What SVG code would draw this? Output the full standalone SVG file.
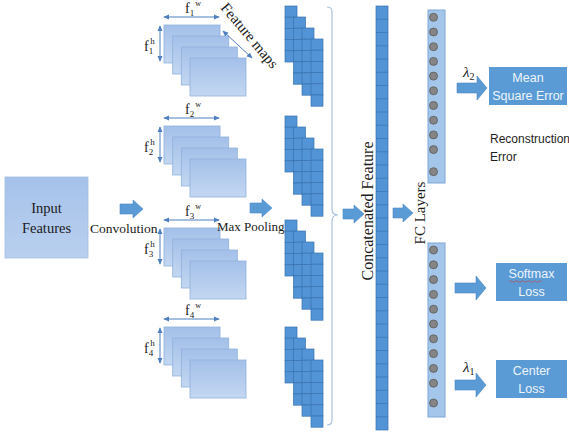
<svg xmlns="http://www.w3.org/2000/svg" xmlns:xlink="http://www.w3.org/1999/xlink" width="569" height="437" viewBox="0 0 569 437">
<style>
.serif{font-family:"Liberation Serif","Times New Roman",serif;fill:#1a1a1a}
.sans{font-family:"Liberation Sans",Arial,sans-serif}
.fmap{fill:url(#fmGrad);stroke:#8fb1dd;stroke-width:0.8}
.cell{fill:#5294d6;stroke:#3a72b0;stroke-width:0.7}
.dim{stroke:#4f7fbf;stroke-width:1;fill:none;marker-start:url(#ah);marker-end:url(#ah)}
.barrow{fill:#5b9bd5;stroke:#4a87c4;stroke-width:0.6}
.bluebox{fill:#5b9bd5}
.boxtxt{font-family:"Liberation Sans",Arial,sans-serif;font-size:12.5px;fill:#eef5fc;text-anchor:middle}
.fc{fill:#a3c6ea;stroke:#7ea8d8;stroke-width:1}
.node{fill:#858585;stroke:#5a5a5a;stroke-width:0.8}
.brace{fill:none;stroke:#a9c1de;stroke-width:1.2}
</style>
<defs>
<linearGradient id="fmGrad" x1="0" y1="0" x2="0" y2="1">
<stop offset="0" stop-color="#a4c0e9"/>
<stop offset="1" stop-color="#c3d7f1"/>
</linearGradient>
<linearGradient id="inGrad" x1="0" y1="0" x2="0" y2="1">
<stop offset="0" stop-color="#a6c2ea"/>
<stop offset="1" stop-color="#b9d0ef"/>
</linearGradient>
<marker id="ah" viewBox="0 0 8 8" refX="7" refY="4" markerWidth="6" markerHeight="6" orient="auto-start-reverse" markerUnits="userSpaceOnUse">
<path d="M0,0.5 L8,4 L0,7.5 Z" fill="#4f7fbf"/>
</marker>
<g id="fstack">
<rect class="fmap" x="0" y="0" width="56" height="38"/>
<rect class="fmap" x="8.7" y="11" width="56" height="38"/>
<rect class="fmap" x="17.3" y="22" width="56" height="38"/>
<rect class="fmap" x="26" y="33" width="56" height="38"/>
</g>
<g id="col5">
<rect class="cell" x="0" y="0" width="12" height="11.2"/>
<rect class="cell" x="0" y="11.2" width="12" height="11.2"/>
<rect class="cell" x="0" y="22.4" width="12" height="11.2"/>
<rect class="cell" x="0" y="33.6" width="12" height="11.2"/>
<rect class="cell" x="0" y="44.8" width="12" height="11.2"/>
</g>
<g id="col6">
<use xlink:href="#col5"/>
<rect class="cell" x="0" y="56" width="12" height="11.2"/>
</g>
<g id="pblock">
<use xlink:href="#col5" x="285" y="0"/>
<use xlink:href="#col6" x="293.5" y="11"/>
<use xlink:href="#col6" x="302" y="22"/>
<use xlink:href="#col6" x="311" y="33"/>
</g>
</defs>

<rect width="569" height="437" fill="#ffffff"/>

<g id="input-features">
<rect x="5" y="177" width="83" height="81" fill="url(#inGrad)" stroke="#a3bfe4" stroke-width="0.8"/>
<text class="serif" x="46.5" y="213" font-size="14.5" text-anchor="middle">Input</text>
<text class="serif" x="46.5" y="233" font-size="14.5" text-anchor="middle">Features</text>
</g>

<g id="feature-maps-1">
<use xlink:href="#fstack" x="164" y="25"/>
<line class="dim" x1="164" y1="17" x2="219" y2="17"/>
<line class="dim" x1="160" y1="26" x2="160" y2="61"/>
<text class="serif" x="185" y="13" font-size="14">f<tspan font-size="9" dy="3">1</tspan><tspan font-size="8" dx="1" dy="-10">w</tspan></text>
<text class="serif" x="144" y="51" font-size="14">f<tspan font-size="9" dy="3">1</tspan><tspan font-size="9" dx="-3" dy="-10">h</tspan></text>
<text class="serif" x="220" y="8" font-size="15" transform="rotate(50 220 8)">Feature maps</text>
<line class="dim" x1="223" y1="31" x2="252" y2="58"/>
</g>

<g id="feature-maps-2">
<use xlink:href="#fstack" x="164" y="126"/>
<line class="dim" x1="164" y1="118" x2="219" y2="118"/>
<line class="dim" x1="160" y1="127" x2="160" y2="162"/>
<text class="serif" x="185" y="114" font-size="14">f<tspan font-size="9" dy="3">2</tspan><tspan font-size="8" dx="1" dy="-10">w</tspan></text>
<text class="serif" x="144" y="152" font-size="14">f<tspan font-size="9" dy="3">2</tspan><tspan font-size="9" dx="-3" dy="-10">h</tspan></text>
</g>

<g id="feature-maps-3">
<use xlink:href="#fstack" x="164" y="228"/>
<line class="dim" x1="164" y1="220" x2="219" y2="220"/>
<line class="dim" x1="160" y1="229" x2="160" y2="264"/>
<text class="serif" x="185" y="216" font-size="14">f<tspan font-size="9" dy="3">3</tspan><tspan font-size="8" dx="1" dy="-10">w</tspan></text>
<text class="serif" x="144" y="254" font-size="14">f<tspan font-size="9" dy="3">3</tspan><tspan font-size="9" dx="-3" dy="-10">h</tspan></text>
</g>

<g id="feature-maps-4">
<use xlink:href="#fstack" x="164" y="327"/>
<line class="dim" x1="164" y1="319" x2="219" y2="319"/>
<line class="dim" x1="160" y1="328" x2="160" y2="363"/>
<text class="serif" x="185" y="315" font-size="14">f<tspan font-size="9" dy="3">4</tspan><tspan font-size="8" dx="1" dy="-10">w</tspan></text>
<text class="serif" x="144" y="353" font-size="14">f<tspan font-size="9" dy="3">4</tspan><tspan font-size="9" dx="-3" dy="-10">h</tspan></text>
</g>

<g id="pool-1"><use xlink:href="#pblock" y="6"/></g>
<g id="pool-2"><use xlink:href="#pblock" y="116"/></g>
<g id="pool-3"><use xlink:href="#pblock" y="220"/></g>
<g id="pool-4"><use xlink:href="#pblock" y="327"/></g>

<g id="concatenated-feature">
<rect x="376" y="6" width="12" height="424" fill="#5294d6" stroke="#3a72b0" stroke-width="0.7"/>
<path d="M376,19.25h12M376,32.5h12M376,45.75h12M376,59h12M376,72.25h12M376,85.5h12M376,98.75h12M376,112h12M376,125.25h12M376,138.5h12M376,151.75h12M376,165h12M376,178.25h12M376,191.5h12M376,204.75h12M376,218h12M376,231.25h12M376,244.5h12M376,257.75h12M376,271h12M376,284.25h12M376,297.5h12M376,310.75h12M376,324h12M376,337.25h12M376,350.5h12M376,363.75h12M376,377h12M376,390.25h12M376,403.5h12M376,416.75h12" stroke="#3a72b0" stroke-width="0.7"/>
<text class="serif" x="0" y="0" font-size="16" text-anchor="middle" transform="translate(373 211) rotate(-90)">Concatenated Feature</text>
</g>

<g id="fc-layer-1">
<rect class="fc" x="428" y="10" width="17" height="173"/>
<circle class="node" cx="433.5" cy="17.3" r="4"/>
<circle class="node" cx="433.5" cy="32" r="4"/>
<circle class="node" cx="433.5" cy="46.7" r="4"/>
<circle class="node" cx="433.5" cy="61.4" r="4"/>
<circle class="node" cx="433.5" cy="76.1" r="4"/>
<circle class="node" cx="433.5" cy="90.8" r="4"/>
<circle class="node" cx="433.5" cy="105.5" r="4"/>
<circle class="node" cx="433.5" cy="120.2" r="4"/>
<circle class="node" cx="433.5" cy="134.9" r="4"/>
<circle class="node" cx="433.5" cy="149.6" r="4"/>
<circle class="node" cx="433.5" cy="171.7" r="4"/>
</g>

<g id="fc-layer-2">
<rect class="fc" x="428" y="243" width="17" height="174"/>
<circle class="node" cx="433.5" cy="250" r="4"/>
<circle class="node" cx="433.5" cy="264.8" r="4"/>
<circle class="node" cx="433.5" cy="279.6" r="4"/>
<circle class="node" cx="433.5" cy="294.4" r="4"/>
<circle class="node" cx="433.5" cy="309.2" r="4"/>
<circle class="node" cx="433.5" cy="324" r="4"/>
<circle class="node" cx="433.5" cy="338.8" r="4"/>
<circle class="node" cx="433.5" cy="353.6" r="4"/>
<circle class="node" cx="433.5" cy="368.4" r="4"/>
<circle class="node" cx="433.5" cy="383.2" r="4"/>
<circle class="node" cx="433.5" cy="403" r="4"/>
</g>

<g id="fc-label">
<text class="serif" x="0" y="0" font-size="15" text-anchor="middle" transform="translate(425 213) rotate(-90)">FC Layers</text>
</g>

<g id="mean-square-error">
<rect class="bluebox" x="489" y="67" width="78" height="38"/>
<text class="boxtxt" x="528" y="82">Mean</text>
<text class="boxtxt" x="528" y="100">Square Error</text>
</g>

<g id="reconstruction-label">
<text class="sans" x="490" y="143" font-size="12" fill="#1e1e1e">Reconstruction</text>
<text class="sans" x="490" y="161" font-size="12" fill="#1e1e1e">Error</text>
</g>

<g id="softmax-loss">
<rect class="bluebox" x="496" y="263" width="71" height="38"/>
<text class="boxtxt" x="531.5" y="278">Softmax</text>
<path d="M509,281.5 q1.5,-1.5 3,0 t3,0 t3,0 t3,0 t3,0 t3,0 t3,0 t3,0 t3,0 t3,0 t3,0" fill="none" stroke="#c0504d" stroke-width="0.7"/>
<text class="boxtxt" x="531.5" y="296">Loss</text>
</g>

<g id="center-loss">
<rect class="bluebox" x="496" y="360" width="71" height="38"/>
<text class="boxtxt" x="531.5" y="375">Center</text>
<text class="boxtxt" x="531.5" y="393">Loss</text>
</g>

<g id="connectors">
<path class="barrow" d="M120,204 H133 V200 L143,209 L133,218 V214 H120 Z"/>
<text class="serif" x="90" y="233" font-size="13.5">Convolution</text>
<path class="barrow" d="M250,203 H262 V199 L272,208 L262,217 V213 H250 Z"/>
<text class="serif" x="217" y="231" font-size="13">Max Pooling</text>
<path class="brace" d="M327,7 Q332,7 332,12 L332,209 Q332,215 338,215 Q332,215 332,221 L332,420 Q332,425 327,425"/>
<path class="barrow" d="M343,209 H354 V205 L364,214 L354,223 V219 H343 Z"/>
<path class="barrow" d="M393,208 H403 V204 L413,213 L403,222 V218 H393 Z"/>
<path class="barrow" d="M457,83 H477 V76 L487,88 L477,100 V93 H457 Z"/>
<path class="barrow" d="M455,283 H476 V276 L486,288 L476,300 V293 H455 Z"/>
<path class="barrow" d="M455,380 H476 V373 L486,385 L476,397 V390 H455 Z"/>
<text class="serif" x="463" y="77" font-size="15" font-style="italic">λ<tspan font-size="10" font-style="normal" dy="3">2</tspan></text>
<text class="serif" x="463" y="372" font-size="15" font-style="italic">λ<tspan font-size="10" font-style="normal" dy="3">1</tspan></text>
</g>
</svg>
